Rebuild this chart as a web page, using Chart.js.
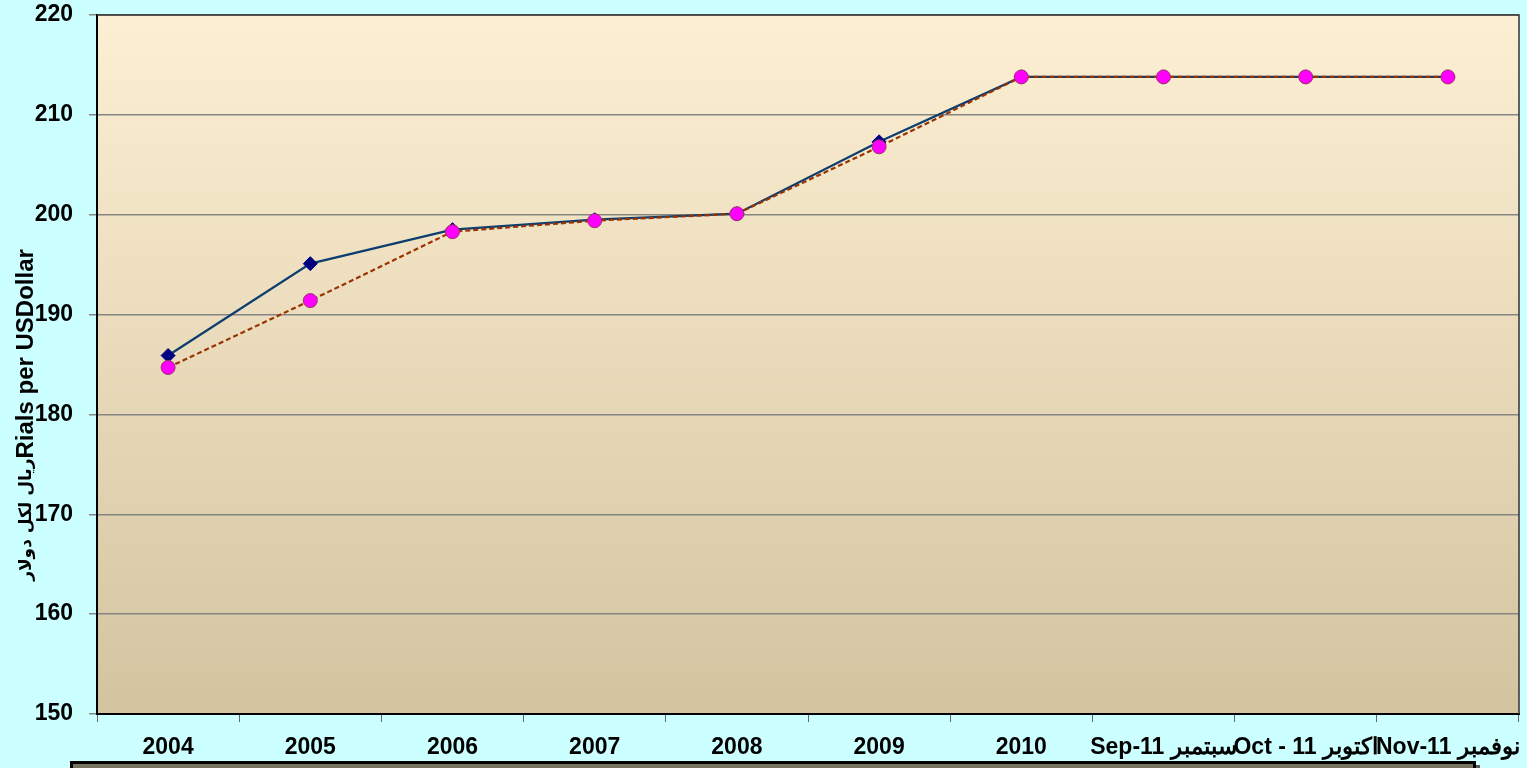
<!DOCTYPE html>
<html>
<head>
<meta charset="utf-8">
<script src="https://cdn.jsdelivr.net/npm/chart.js@4"></script>
<style>
  html, body { margin: 0; padding: 0; background: #CCFFFF; overflow: hidden; }
  #wrap { position: relative; width: 1527px; height: 768px; }
  #legendBox {
    position: absolute; left: 70px; top: 761px; width: 1400px; height: 20px;
    background: #77725F; border: 3px solid #000;
    box-shadow: 4px 4px 0 #5a5a50;
  }
</style>
</head>
<body>
<div id="wrap">
  <canvas id="lineChart"></canvas>
  <div id="legendBox"></div>
</div>
<script>
// categories
var periods = ["2004", "2005", "2006", "2007", "2008", "2009", "2010",
    "Sep-11 سبتمبر", "Oct - 11 اكتوبر", "Nov-11 نوفمبر"];

// series values (rials per dollar)
var seriesA = [185.9, 195.1, 198.5, 199.5, 200.1, 207.3, 213.8, 213.8, 213.8, 213.8];
var seriesB = [184.7, 191.4, 198.3, 199.4, 200.1, 206.8, 213.8, 213.8, 213.8, 213.8];

// y ticks
var yMin = 150, yMax = 220, yStep = 10;

var titleAr = "ريال لكل دولار";
var titleEn = "Rials per USDollar";

// plot area background + frame
var plotFrame = {
    id: 'plotFrame',
    beforeDraw: function (chart) {
        var a = chart.chartArea, c = chart.ctx;
        var g = c.createLinearGradient(0, a.top, 0, a.bottom);
        g.addColorStop(0, '#FDEFD3');
        g.addColorStop(1, '#D3C4A0');
        c.save();
        c.fillStyle = g;
        c.fillRect(a.left, a.top, a.right - a.left, a.bottom - a.top);
        c.restore();
    },
    afterDatasetsDraw: function (chart) {
        var a = chart.chartArea, c = chart.ctx;
        c.save();
        c.strokeStyle = '#333';
        c.lineWidth = 1.5;
        c.beginPath();
        c.moveTo(a.left, a.top);
        c.lineTo(a.right, a.top);
        c.lineTo(a.right, a.bottom);
        c.stroke();
        c.restore();
    }
};

// two-part rotated y title (arabic smaller, english bigger)
var yTitle = {
    id: 'yTitle',
    afterDraw: function (chart) {
        var c = chart.ctx;
        var fAr = 'bold 17px "DejaVu Sans", "Liberation Sans", Arial';
        var fEn = 'bold 24px "Liberation Sans", Arial';
        c.save();
        c.translate(26, 415);
        c.rotate(-Math.PI / 2);
        c.textBaseline = 'middle';
        c.textAlign = 'left';
        c.fillStyle = '#000';
        c.font = fAr;
        var wAr = c.measureText(titleAr).width;
        c.font = fEn;
        var wEn = c.measureText(titleEn).width;
        var x0 = -(wAr + wEn) / 2;
        c.font = fAr;
        c.fillText(titleAr, x0, 1);
        c.font = fEn;
        c.fillText(titleEn, x0 + wAr, 0);
        c.restore();
    }
};

var ctx = document.getElementById("lineChart").getContext('2d');
var myLineChart = new Chart(ctx, {
    type: 'line',
    data: {
        labels: periods,
        datasets: [{
            label: "B",
            data: seriesB,
            order: 0,
            borderColor: "#993300",
            borderWidth: 2.2,
            borderDash: [5, 3],
            backgroundColor: "#FF00FF",
            pointStyle: 'circle',
            pointRadius: 7,
            pointBackgroundColor: "#FF00FF",
            pointBorderColor: "#993366",
            pointBorderWidth: 1,
            tension: 0
        }, {
            label: "A",
            data: seriesA,
            order: 1,
            borderColor: "#0B3D6E",
            borderWidth: 2.2,
            backgroundColor: "#000080",
            pointStyle: 'rectRot',
            pointRadius: 7,
            pointBackgroundColor: "#000080",
            pointBorderColor: "#000080",
            pointBorderWidth: 1,
            tension: 0
        }]
    },
    options: {
        responsive: true,
        maintainAspectRatio: false,
        animation: false,
        layout: { padding: { top: 15, right: 4, left: 0, bottom: 0 } },
        plugins: {
            legend: { display: false },
            tooltip: { enabled: false }
        },
        scales: {
            x: {
                offset: true,
                afterFit: function (s) {
                    s.height = 54;
                    s.paddingLeft = 0;
                    s.paddingRight = 0;
                },
                border: { color: '#000', width: 2 },
                grid: { offset: true, drawOnChartArea: false, tickLength: 8, color: '#666' },
                ticks: {
                    color: '#000',
                    font: { family: '"Liberation Sans", Arial', size: 23, weight: 'bold' },
                    padding: 12,
                    autoSkip: false,
                    maxRotation: 0,
                    minRotation: 0
                }
            },
            y: {
                min: yMin,
                max: yMax,
                afterFit: function (s) {
                    s.width = 97;
                    s.paddingTop = 0;
                    s.paddingBottom = 0;
                },
                border: { color: '#000', width: 2 },
                grid: { color: '#858585', lineWidth: 1.5, tickLength: 8 },
                ticks: {
                    stepSize: yStep,
                    color: '#000',
                    font: { family: '"Liberation Sans", Arial', size: 23, weight: 'bold' },
                    padding: 16
                }
            }
        }
    },
    plugins: [plotFrame, yTitle]
});
</script>
</body>
</html>
